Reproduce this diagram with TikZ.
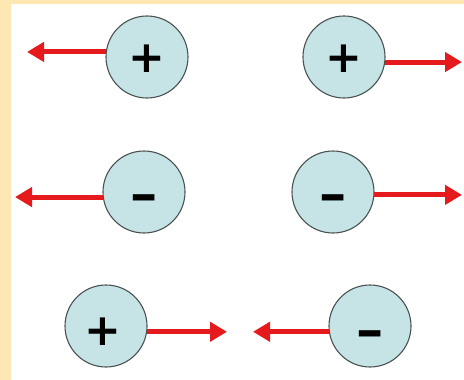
\documentclass[tikz,border=0pt]{standalone}
\usepackage{fontspec}
\newfontfamily\signfont{DejaVu Sans}
\usetikzlibrary{arrows.meta}
\definecolor{frame}{HTML}{FCE7B2}
\definecolor{chargefill}{HTML}{C6E4E6}
\definecolor{chargeline}{HTML}{4A5252}
\definecolor{forcered}{HTML}{E41A1C}
\tikzset{
  charge/.style={circle, draw=chargeline, line width=1.1pt, fill=chargefill,
    minimum size=82pt, inner sep=0pt},
  sign/.style={inner sep=0pt,
    font=\signfont\bfseries\fontsize{44}{44}\selectfont},
  force/.style={draw=forcered, line width=5pt,
    -{Triangle[length=17pt,width=19pt]}}
}
\newcommand{\minussign}{\scalebox{1.6}[1]{-}}
\begin{document}
\begin{tikzpicture}[x=1pt,y=-1pt]
  % page and white panel
  \fill[frame] (0,0) rectangle (464,380);
  \fill[white] (11,4) rectangle (464,380);
  \useasboundingbox (0,0) rectangle (464,380);

  % charges
  \node[charge] (p1) at (147,57) {};
  \node[charge] (p2) at (344,57) {};
  \node[charge] (m1) at (144,192) {};
  \node[charge] (m2) at (333,192) {};
  \node[charge] (p3) at (106,326) {};
  \node[charge] (m3) at (370,326) {};

  % signs
  \node[sign] (s1) at ([yshift=-2pt]p1) {+};
  \node[sign] (s2) at ([yshift=-2pt]p2) {+};
  \node[sign] (s3) at ([yshift=-11pt]m1) {\minussign};
  \node[sign] (s4) at ([yshift=-11pt]m2) {\minussign};
  \node[sign] (s5) at ([xshift=-3pt,yshift=-6pt]p3) {+};
  \node[sign] (s6) at ([yshift=-13pt]m3) {\minussign};

  % free ends of the force arrows
  \coordinate (t1) at (27,0);
  \coordinate (t2) at (462,0);
  \coordinate (t3) at (15,0);
  \coordinate (t4) at (462,0);
  \coordinate (t5) at (227,0);
  \coordinate (t6) at (253,0);

  % forces
  \draw[force] (p1.173) -- (p1.173 -| t1);
  \draw[force] (p2.353) -- (p2.353 -| t2);
  \draw[force] (m1.187) -- (m1.187 -| t3);
  \draw[force] (m2.356) -- (m2.356 -| t4);
  \draw[force] (p3.352) -- (p3.352 -| t5);
  \draw[force] (m3.188) -- (m3.188 -| t6);
\end{tikzpicture}
\end{document}
